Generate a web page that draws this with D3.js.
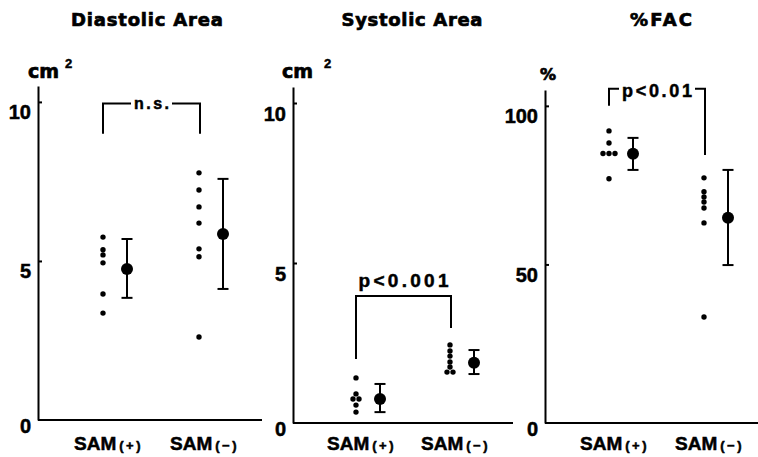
<!DOCTYPE html>
<html>
<head>
<meta charset="utf-8">
<script src="https://cdn.jsdelivr.net/npm/d3@7"></script>
<style>
  body { margin: 0; background: #fff; }
  text { font-family: "Liberation Sans", Arial, sans-serif; font-weight: bold; fill: #000; stroke: #000; stroke-width: 0.5; }
  .wide { font-family: "DejaVu Sans", sans-serif; stroke-width: 0.7; }
  .domain, .tick line { stroke: #000; stroke-width: 2; }
</style>
</head>
<body>
<svg id="chart" width="758" height="457"></svg>
<script>
// ---- values ----
var titles = ['Diastolic Area', 'Systolic Area', '%FAC'];
var groups = ['SAM', 'SAM'];
var groupSigns = ['(+)', '(\u2212)'];
var units = ['cm', 'cm', '%'];
var unitSup = ['2', '2', ''];
var sigLabels = ['n.s.', 'p<0.001', 'p<0.01'];

var diastolicTicks = [0, 5, 10];
var diastolicPlus = [5.75, 5.35, 5.19, 4.94, 3.96, 3.36];
var diastolicMinus = [7.77, 7.23, 6.70, 6.19, 5.38, 5.13, 2.61];
var diastolicMean = [4.75, 5.85];
var diastolicLow = [3.84, 4.12];
var diastolicHigh = [5.69, 7.58];
var diastolicBracket = [9.95, 9.0, 9.0];   // top, left end, right end

var systolicTicks = [0, 5, 10];
var systolicPlus = [1.41, 0.91, 0.75, 0.75, 0.56, 0.34];
var systolicMinus = [2.44, 2.25, 2.09, 1.91, 1.75, 1.59, 1.59];
var systolicMean = [0.75, 1.88];
var systolicLow = [0.34, 1.53];
var systolicHigh = [1.22, 2.28];
var systolicBracket = [3.97, 2.0, 2.97];

var facTicks = [0, 50, 100];
var facPlus = [92.1, 88.3, 85, 85, 85, 77];
var facMinus = [77.3, 72.9, 71.3, 69.7, 67.8, 63.1, 33.4];
var facMean = [84.9, 64.7];
var facLow = [79.8, 49.8];
var facHigh = [89.9, 79.8];
var facBracket = [105.4, 100, 84.5];

var panels = [
  { ticks: diastolicTicks, max: 10.5, pts: [diastolicPlus, diastolicMinus], mean: diastolicMean, lo: diastolicLow, hi: diastolicHigh, br: diastolicBracket },
  { ticks: systolicTicks, max: 10.5, pts: [systolicPlus, systolicMinus], mean: systolicMean, lo: systolicLow, hi: systolicHigh, br: systolicBracket },
  { ticks: facTicks, max: 105, pts: [facPlus, facMinus], mean: facMean, lo: facLow, hi: facHigh, br: facBracket }
];

// ---- layout ----
var layout = [
  { left: 38, y0: 420, yTop: 86, width: 224, cols: [65, 161], titleX: 147, titleW: 152, unitX: -10, supX: 27, sigMode: 'inline', sigW: 35, sigSize: 16, sigDy: 6 },
  { left: 293, y0: 423, yTop: 87, width: 220, cols: [63, 157], titleX: 412, titleW: 141, unitX: -11, supX: 31, sigMode: 'above', sigW: 90, sigSize: 19, sigDy: -9 },
  { left: 545, y0: 423, yTop: 90, width: 213, cols: [64, 159], titleX: 661, titleW: 62, unitX: -5, supX: 0, sigMode: 'inline', sigW: 70, sigSize: 18, sigDy: 8 }
];
var meanOffset = 24;

var svg = d3.select('#chart');

panels.forEach(function(p, i) {
  var L = layout[i];
  var g = svg.append('g').attr('transform', 'translate(' + L.left + ',0)');

  var y = d3.scaleLinear().domain([0, p.max]).range([L.y0, L.yTop]);
  var x = d3.scalePoint().domain([0, 1]).range(L.cols);

  // title
  svg.append('text')
    .attr('class', 'wide')
    .attr('x', L.titleX).attr('y', 26)
    .attr('text-anchor', 'middle')
    .attr('font-size', 18)
    .attr('textLength', L.titleW)
    .text(titles[i]);

  // unit
  g.append('text')
    .attr('class', 'wide')
    .attr('x', L.unitX).attr('y', i == 2 ? 80 : 78)
    .attr('font-size', i == 2 ? 16 : 19)
    .text(units[i]);
  if (unitSup[i]) {
    g.append('text')
      .attr('x', L.supX).attr('y', 68)
      .attr('font-size', 13)
      .text(unitSup[i]);
  }

  // y axis
  var yAxis = g.append('g')
    .call(d3.axisLeft(y).tickValues(p.ticks).tickSizeInner(-4).tickSizeOuter(0).tickPadding(7));
  yAxis.selectAll('text')
    .attr('font-size', 20)
    .attr('font-family', '"Liberation Sans", Arial, sans-serif')
    .attr('font-weight', 'bold')
    .attr('fill', '#000')
    .attr('dy', function(d) { return d == 0 ? '0.6em' : '0.85em'; });
  yAxis.selectAll('.tick').filter(function(d) { return d == 0; }).select('line').remove();

  // x axis baseline
  g.append('line')
    .attr('x1', 0).attr('x2', L.width)
    .attr('y1', L.y0).attr('y2', L.y0)
    .attr('stroke', '#000').attr('stroke-width', 2);

  // group labels
  [0, 1].forEach(function(k) {
    var t = g.append('text')
      .attr('x', x(k) - 29).attr('y', 450);
    t.append('tspan').attr('font-size', 19).text(groups[k]);
    t.append('tspan').attr('font-size', 13).attr('dx', 3)
      .attr('letter-spacing', 2.5).text(groupSigns[k]);
  });

  // individual points, equal values spread side by side
  p.pts.forEach(function(vals, k) {
    var counts = d3.rollup(vals, function(v) { return v.length; }, function(d) { return d; });
    var seen = new Map();
    var placed = vals.map(function(v) {
      var n = counts.get(v), j = seen.get(v) || 0;
      seen.set(v, j + 1);
      return { v: v, dx: (j - (n - 1) / 2) * 6 };
    });
    g.selectAll('.pt' + k)
      .data(placed)
      .enter().append('circle')
      .attr('cx', function(d) { return x(k) + d.dx; })
      .attr('cy', function(d) { return y(d.v); })
      .attr('r', 2.7)
      .attr('fill', '#000');
  });

  // mean and SD bars
  [0, 1].forEach(function(k) {
    var cx = x(k) + meanOffset;
    g.append('line')
      .attr('x1', cx).attr('x2', cx)
      .attr('y1', y(p.lo[k])).attr('y2', y(p.hi[k]))
      .attr('stroke', '#000').attr('stroke-width', 2);
    [p.lo[k], p.hi[k]].forEach(function(v) {
      g.append('line')
        .attr('x1', cx - 5.5).attr('x2', cx + 5.5)
        .attr('y1', y(v)).attr('y2', y(v))
        .attr('stroke', '#000').attr('stroke-width', 2);
    });
    g.append('circle')
      .attr('cx', cx).attr('cy', y(p.mean[k]))
      .attr('r', 6).attr('fill', '#000');
  });

  // significance bracket
  var bx1 = x(0), bx2 = x(1) + 1, yt = y(p.br[0]);
  var mid = (bx1 + bx2) / 2;
  g.append('text')
    .attr('x', mid).attr('y', yt + L.sigDy)
    .attr('text-anchor', 'middle')
    .attr('font-size', L.sigSize)
    .attr('textLength', L.sigW)
    .text(sigLabels[i]);
  if (L.sigMode == 'inline') {
    var gap = L.sigW / 2 + 3;
    g.append('path')
      .attr('d', 'M' + bx1 + ',' + y(p.br[1]) + 'V' + yt + 'H' + (mid - gap))
      .attr('fill', 'none').attr('stroke', '#000').attr('stroke-width', 2);
    g.append('path')
      .attr('d', 'M' + (mid + gap) + ',' + yt + 'H' + bx2 + 'V' + y(p.br[2]))
      .attr('fill', 'none').attr('stroke', '#000').attr('stroke-width', 2);
  } else {
    g.append('path')
      .attr('d', 'M' + bx1 + ',' + y(p.br[1]) + 'V' + yt + 'H' + bx2 + 'V' + y(p.br[2]))
      .attr('fill', 'none').attr('stroke', '#000').attr('stroke-width', 2);
  }
});
</script>
</body>
</html>
